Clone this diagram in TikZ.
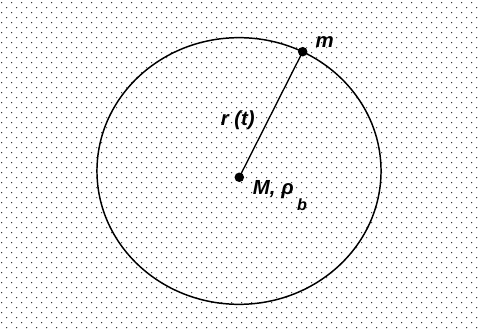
\documentclass[tikz,border=0pt]{standalone}
\usepackage{fontspec}
\setmainfont{Liberation Sans}
\usetikzlibrary{positioning}
\definecolor{orbitdot}{RGB}{40,40,40}

\begin{document}
\begin{tikzpicture}[x=0.025cm,y=0.025cm,line cap=round,line join=round,
                     font=\fontsize{14.5}{17}\selectfont\bfseries\itshape]
  \useasboundingbox (0,0) rectangle (479,329);
  % Tło: przesunięte rzędy drobnych kropek.
  \foreach \k in {0,...,65}{
    \pgfmathsetmacro\xo{mod(\k,2)*5+1.7}
    \foreach \j in {0,...,47}
      \fill[orbitdot] ({\xo+10*\j},{326.3-5*\k}) circle (0.5pt);
  }
  % Orbita i promień.
  \draw[line width=1.05pt] (239,158) ellipse (3.55cm and 3.3325cm);
  \fill (239.3,151.7) circle (3.4pt);
  \fill (302.7,277.3) circle (3.4pt);
  \coordinate (M) at (239.3,151.7);
  \coordinate (m) at (302.7,277.3);
  \draw[line width=0.95pt] (M) -- (m);
  \node (mlabel) at (324.7,287.3) {m};
  \node (rlabel) at (237.8,209) {r (t)};
  \node[anchor=base west,inner sep=0pt] (Mlabel) at (252.7,134.5)
       {M, ρ\raisebox{-11.5pt}{\fontsize{11.5}{13}\selectfont\kern2.5pt b}};
\end{tikzpicture}
\end{document}
